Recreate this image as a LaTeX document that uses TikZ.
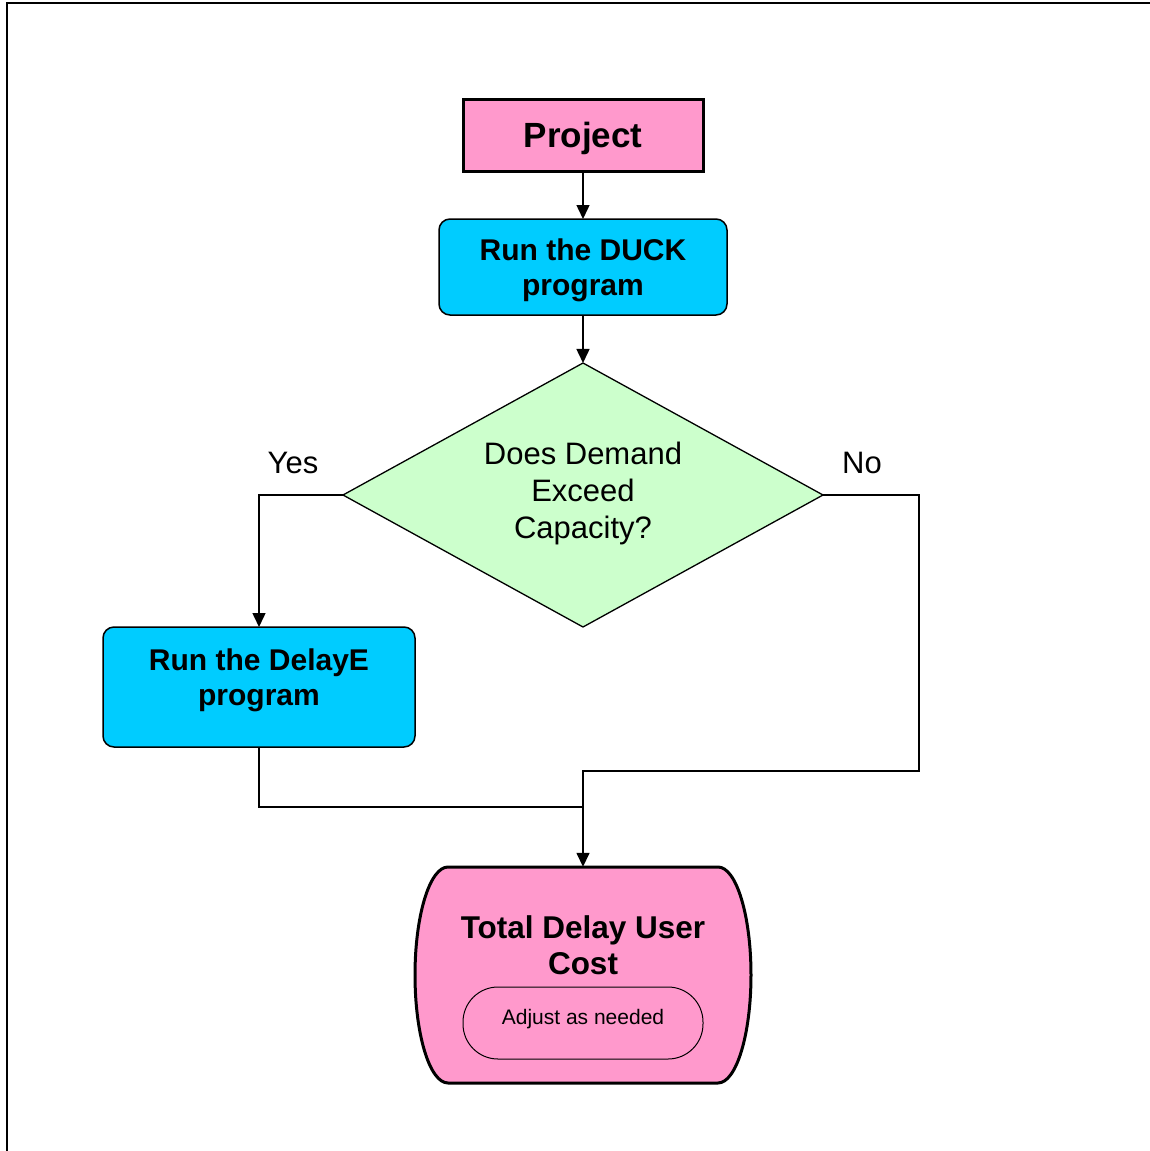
\documentclass[tikz,border=0pt]{standalone}
\usepackage{fontspec}
\setmainfont{Liberation Sans}
\usepackage{tikz}
\usetikzlibrary{arrows.meta,positioning,calc,shapes.geometric}
\definecolor{rosa}{HTML}{FF99CC}
\definecolor{ciano}{HTML}{00CCFF}
\definecolor{verde}{HTML}{CCFFCC}

\begin{document}
\begin{tikzpicture}[
  x=1pt, y=1pt, >={Triangle[length=14pt,width=13pt]},
  caixa/.style={draw, align=center, inner sep=0pt, outer sep=0pt, text=black},
  projeto/.style={caixa, fill=rosa, line width=3pt, minimum width=240pt,
                  minimum height=72pt, text depth=0pt,
                  font=\fontsize{35}{40}\selectfont\bfseries},
  programa/.style={caixa, fill=ciano, line width=1.5pt, rounded corners=11pt,
                   font=\fontsize{30}{35}\selectfont\bfseries},
  losango/.style={caixa, diamond, fill=verde, line width=1.3pt, shape aspect=1.82,
                  minimum width=480pt, minimum height=264pt, text depth=9pt,
                  font=\fontsize{31}{37}\selectfont},
  termino/.style={minimum width=336pt, minimum height=216pt, inner sep=0pt},
  ajuste/.style={caixa, line width=1pt, rounded corners=35pt, minimum width=240pt,
                 minimum height=72pt, text depth=12pt, font=\fontsize{21}{25}\selectfont},
  rotulo/.style={font=\fontsize{31}{37}\selectfont, inner sep=0pt},
  seta/.style={->, line width=1.5pt},
  linha/.style={line width=1.5pt}]

  \useasboundingbox (0,0) rectangle (1149,-1151);
  \draw[line width=2.2pt] (7,-1160) -- (7,-3) -- (1160,-3);

  \node[projeto] (proj) at (583,-135) {Project};
  \node[programa, minimum width=288pt, minimum height=96pt, text depth=0pt,
        below=48pt of proj] (duck) {Run the DUCK\\program};
  \node[losango, below=48pt of duck] (decide) {Does Demand\\Exceed\\Capacity?};
  \node[programa, minimum width=312pt, minimum height=120pt, text depth=20pt] (delay)
       at (259,-687) {Run the DelayE\\program};
  \node[termino] (total) at (583,-975) {};

  \draw[line width=3pt, fill=rosa]
    ($(total.center)+(-135,108)$) -- ($(total.center)+(135,108)$)
    arc[start angle=90, end angle=-90, x radius=33, y radius=108]
    -- ($(total.center)+(-135,-108)$)
    arc[start angle=270, end angle=90, x radius=33, y radius=108] -- cycle;

  \node[align=center, inner sep=0pt, font=\fontsize{31.5}{36}\selectfont\bfseries]
       (totaltxt) at ($(total.center)+(0,30)$) {Total Delay User\\Cost};
  \node[ajuste, fill=rosa] (adj) at ($(total.center)+(0,-48)$) {Adjust as needed};

  \node[rotulo] (sim) at (293,-463) {Yes};
  \node[rotulo] (nao) at (862,-463) {No};

  \coordinate (desvio) at (919,-771);
  \coordinate (encontro) at (583,-807);

  \draw[seta] (proj) -- (duck);
  \draw[seta] (duck) -- (decide);
  \draw[seta] (decide.west) -| (delay.north);
  \draw[seta] (decide.east) -| (desvio) -- (desvio -| total.north) -- (total.north);
  \draw[linha] (delay.south) |- (encontro);
\end{tikzpicture}
\end{document}
